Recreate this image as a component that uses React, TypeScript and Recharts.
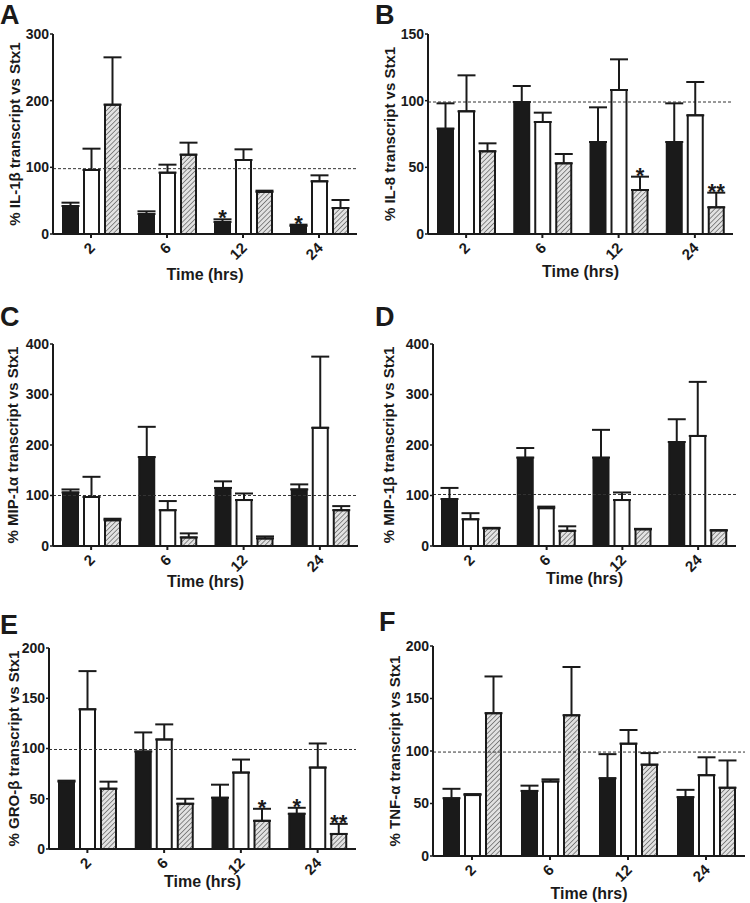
import React from 'react';
import { BarChart, Bar, XAxis, YAxis, ErrorBar, ReferenceLine, LabelList, Label } from 'recharts';

const times = ['2', '6', '12', '24'];

// A - IL-1β
const il1bBlack = [42, 30, 18, 12];
const il1bBlackErr = [5, 4, 4, 2];
const il1bWhite = [96, 92, 111, 79];
const il1bWhiteErr = [32, 12, 16, 9];
const il1bHatch = [194, 119, 63, 39];
const il1bHatchErr = [71, 18, 2, 12];
const il1bBlackStars = ['', '', '*', '*'];

// B - IL-8
const il8Black = [79, 99, 69, 69];
const il8BlackErr = [19, 12, 26, 29];
const il8White = [92, 84, 108, 89];
const il8WhiteErr = [27, 7, 23, 25];
const il8Hatch = [62, 53, 33, 20];
const il8HatchErr = [6, 7, 10, 11];
const il8HatchStars = ['', '', '*', '**'];

// C - MIP-1α
const mip1aBlack = [106, 176, 115, 112];
const mip1aBlackErr = [6, 60, 13, 10];
const mip1aWhite = [97, 71, 91, 234];
const mip1aWhiteErr = [40, 18, 13, 141];
const mip1aHatch = [51, 17, 15, 71];
const mip1aHatchErr = [3, 8, 4, 8];

// D - MIP-1β
const mip1bBlack = [93, 175, 175, 206];
const mip1bBlackErr = [22, 19, 55, 45];
const mip1bWhite = [53, 75, 91, 218];
const mip1bWhiteErr = [12, 3, 15, 107];
const mip1bHatch = [35, 30, 33, 31];
const mip1bHatchErr = [1, 9, 1, 0];

// E - GRO-β
const grobBlack = [67, 97, 51, 35];
const grobBlackErr = [1, 19, 13, 6];
const grobWhite = [139, 109, 76, 81];
const grobWhiteErr = [38, 15, 13, 24];
const grobHatch = [60, 45, 28, 15];
const grobHatchErr = [7, 5, 12, 10];
const grobBlackStars = ['', '', '', '*'];
const grobHatchStars = ['', '', '*', '**'];

// F - TNF-α
const tnfBlack = [55, 62, 74, 56];
const tnfBlackErr = [9, 5, 23, 7];
const tnfWhite = [58, 71, 107, 77];
const tnfWhiteErr = [1, 2, 13, 17];
const tnfHatch = [136, 134, 87, 65];
const tnfHatchErr = [35, 46, 11, 26];

const font = '"Liberation Sans", Arial, sans-serif';
const ink = '#1a1a1a';
const none = ['', '', '', ''];

const XTick = (props: any) => {
  const { x, y, payload } = props;
  const px = x + 1;
  const py = y + 5;
  return (
    <text
      x={px}
      y={py}
      textAnchor="end"
      dominantBaseline="central"
      transform={`rotate(-45 ${px} ${py})`}
      fontSize={15}
      fontWeight="bold"
      fontFamily={font}
      fill={ink}
    >
      {payload.value}
    </text>
  );
};

function Panel(p: any) {
  const W = 375;
  const H = p.height;
  const yAxisW = 40;
  const xAxisH = 30;
  const plotH = p.bottom - p.top;
  const data = times.map((t, i) => ({
    time: t,
    black: p.black[i],
    blackErr: [0, p.blackErr[i]],
    blackStar: p.blackStars[i],
    white: p.white[i],
    whiteErr: [0, p.whiteErr[i]],
    hatch: p.hatch[i],
    hatchErr: [0, p.hatchErr[i]],
    hatchStar: p.hatchStars[i],
  }));
  const star = (errs: number[]) => (lp: any) => {
    const { x, y, width, value, index } = lp;
    if (!value) return null;
    const capY = y - (errs[index] * plotH) / p.yMax;
    return (
      <text x={x + width / 2} y={capY + 6} textAnchor="middle" fontSize={22} fontWeight="bold" fontFamily={font} fill={ink}>
        {value}
      </text>
    );
  };
  const pid = 'hatch' + p.letter;
  return (
    <div style={{ position: 'absolute', left: p.x, top: p.y, width: W, height: H }}>
      <div style={{ position: 'absolute', left: p.letterX, top: p.letterY, fontFamily: font, fontWeight: 'bold', fontSize: 27, lineHeight: 'normal', color: ink }}>
        {p.letter}
      </div>
      <BarChart
        width={W}
        height={H}
        data={data}
        barSize={15}
        barGap={6}
        margin={{ top: p.top, left: p.left - yAxisW, right: W - p.right, bottom: H - p.bottom - xAxisH }}
      >
        <defs>
          <pattern id={pid} width={3.4} height={3.4} patternUnits="userSpaceOnUse" patternTransform="rotate(45)">
            <rect width={3.4} height={3.4} fill="#e2e2e2" />
            <line x1={0} y1={0} x2={0} y2={3.4} stroke="#555" strokeWidth={1.3} />
          </pattern>
        </defs>
        <XAxis
          dataKey="time"
          height={xAxisH}
          tick={<XTick />}
          tickSize={4}
          tickMargin={2}
          axisLine={{ stroke: ink, strokeWidth: 2 }}
          tickLine={{ stroke: ink, strokeWidth: 2 }}
          interval={0}
        >
          <Label
            content={() => (
              <text x={(p.left + p.right) / 2} y={p.bottom + p.xLabelDy} textAnchor="middle" fontSize={16} fontWeight="bold" fontFamily={font} fill={ink}>
                Time (hrs)
              </text>
            )}
          />
        </XAxis>
        <YAxis
          width={yAxisW}
          domain={[0, p.yMax]}
          ticks={p.yTicks}
          tickSize={3}
          tickMargin={1}
          tick={{ fontSize: 14, fontWeight: 'bold', fontFamily: font, fill: ink }}
          axisLine={{ stroke: ink, strokeWidth: 2 }}
          tickLine={{ stroke: ink, strokeWidth: 1.5 }}
        >
          <Label
            content={() => {
              const cy = (p.top + p.bottom) / 2;
              return (
                <text x={p.yLabelX} y={cy} textAnchor="middle" dominantBaseline="central" transform={`rotate(-90 ${p.yLabelX} ${cy})`} fontSize={15} fontWeight="bold" fontFamily={font} fill={ink}>
                  {p.yLabel}
                </text>
              );
            }}
          />
        </YAxis>
        <ReferenceLine y={p.refY} stroke="#333" strokeWidth={1} strokeDasharray="3 2" />
        <Bar dataKey="black" fill={ink} stroke={ink} strokeWidth={2} isAnimationActive={false}>
          <ErrorBar dataKey="blackErr" direction="y" width={9} stroke={ink} strokeWidth={2} />
          <LabelList dataKey="blackStar" content={star(p.blackErr)} />
        </Bar>
        <Bar dataKey="white" fill="#fff" stroke={ink} strokeWidth={2} isAnimationActive={false}>
          <ErrorBar dataKey="whiteErr" direction="y" width={9} stroke={ink} strokeWidth={2} />
        </Bar>
        <Bar dataKey="hatch" fill={`url(#${pid})`} stroke={ink} strokeWidth={2} isAnimationActive={false}>
          <ErrorBar dataKey="hatchErr" direction="y" width={9} stroke={ink} strokeWidth={2} />
          <LabelList dataKey="hatchStar" content={star(p.hatchErr)} />
        </Bar>
      </BarChart>
    </div>
  );
}

export default function App() {
  return (
    <div style={{ position: 'absolute', left: 0, top: 0, width: 750, height: 903, background: '#fff', overflow: 'hidden' }}>
      <Panel
        letter="A" x={0} y={0} height={300} letterX={0} letterY={0}
        left={53} right={357} top={34} bottom={234} xLabelDy={46} yLabelX={14}
        yMax={300} yTicks={[0, 100, 200, 300]} refY={98}
        yLabel="% IL-1β transcript vs Stx1"
        black={il1bBlack} blackErr={il1bBlackErr} white={il1bWhite} whiteErr={il1bWhiteErr}
        hatch={il1bHatch} hatchErr={il1bHatchErr} blackStars={il1bBlackStars} hatchStars={none}
      />
      <Panel
        letter="B" x={375} y={0} height={300} letterX={0} letterY={0}
        left={53} right={358} top={34} bottom={234} xLabelDy={43} yLabelX={14}
        yMax={150} yTicks={[0, 50, 100, 150]} refY={99}
        yLabel="% IL-8 transcript vs Stx1"
        black={il8Black} blackErr={il8BlackErr} white={il8White} whiteErr={il8WhiteErr}
        hatch={il8Hatch} hatchErr={il8HatchErr} blackStars={none} hatchStars={il8HatchStars}
      />
      <Panel
        letter="C" x={0} y={300} height={300} letterX={0} letterY={2}
        left={53} right={358} top={44} bottom={246} xLabelDy={41} yLabelX={12}
        yMax={400} yTicks={[0, 100, 200, 300, 400]} refY={100}
        yLabel="% MIP-1α transcript vs Stx1"
        black={mip1aBlack} blackErr={mip1aBlackErr} white={mip1aWhite} whiteErr={mip1aWhiteErr}
        hatch={mip1aHatch} hatchErr={mip1aHatchErr} blackStars={none} hatchStars={none}
      />
      <Panel
        letter="D" x={375} y={300} height={300} letterX={0} letterY={2}
        left={58} right={361} top={44} bottom={246} xLabelDy={38} yLabelX={13}
        yMax={400} yTicks={[0, 100, 200, 300, 400]} refY={102}
        yLabel="% MIP-1β transcript vs Stx1"
        black={mip1bBlack} blackErr={mip1bBlackErr} white={mip1bWhite} whiteErr={mip1bWhiteErr}
        hatch={mip1bHatch} hatchErr={mip1bHatchErr} blackStars={none} hatchStars={none}
      />
      <Panel
        letter="E" x={0} y={600} height={303} letterX={0} letterY={10}
        left={49} right={356} top={48} bottom={249} xLabelDy={38} yLabelX={13}
        yMax={200} yTicks={[0, 50, 100, 150, 200]} refY={99}
        yLabel="% GRO-β transcript vs Stx1"
        black={grobBlack} blackErr={grobBlackErr} white={grobWhite} whiteErr={grobWhiteErr}
        hatch={grobHatch} hatchErr={grobHatchErr} blackStars={grobBlackStars} hatchStars={grobHatchStars}
      />
      <Panel
        letter="F" x={375} y={600} height={303} letterX={4} letterY={7}
        left={58} right={370} top={46} bottom={256} xLabelDy={43} yLabelX={19}
        yMax={200} yTicks={[0, 50, 100, 150, 200]} refY={99}
        yLabel="% TNF-α transcript vs Stx1"
        black={tnfBlack} blackErr={tnfBlackErr} white={tnfWhite} whiteErr={tnfWhiteErr}
        hatch={tnfHatch} hatchErr={tnfHatchErr} blackStars={none} hatchStars={none}
      />
    </div>
  );
}
